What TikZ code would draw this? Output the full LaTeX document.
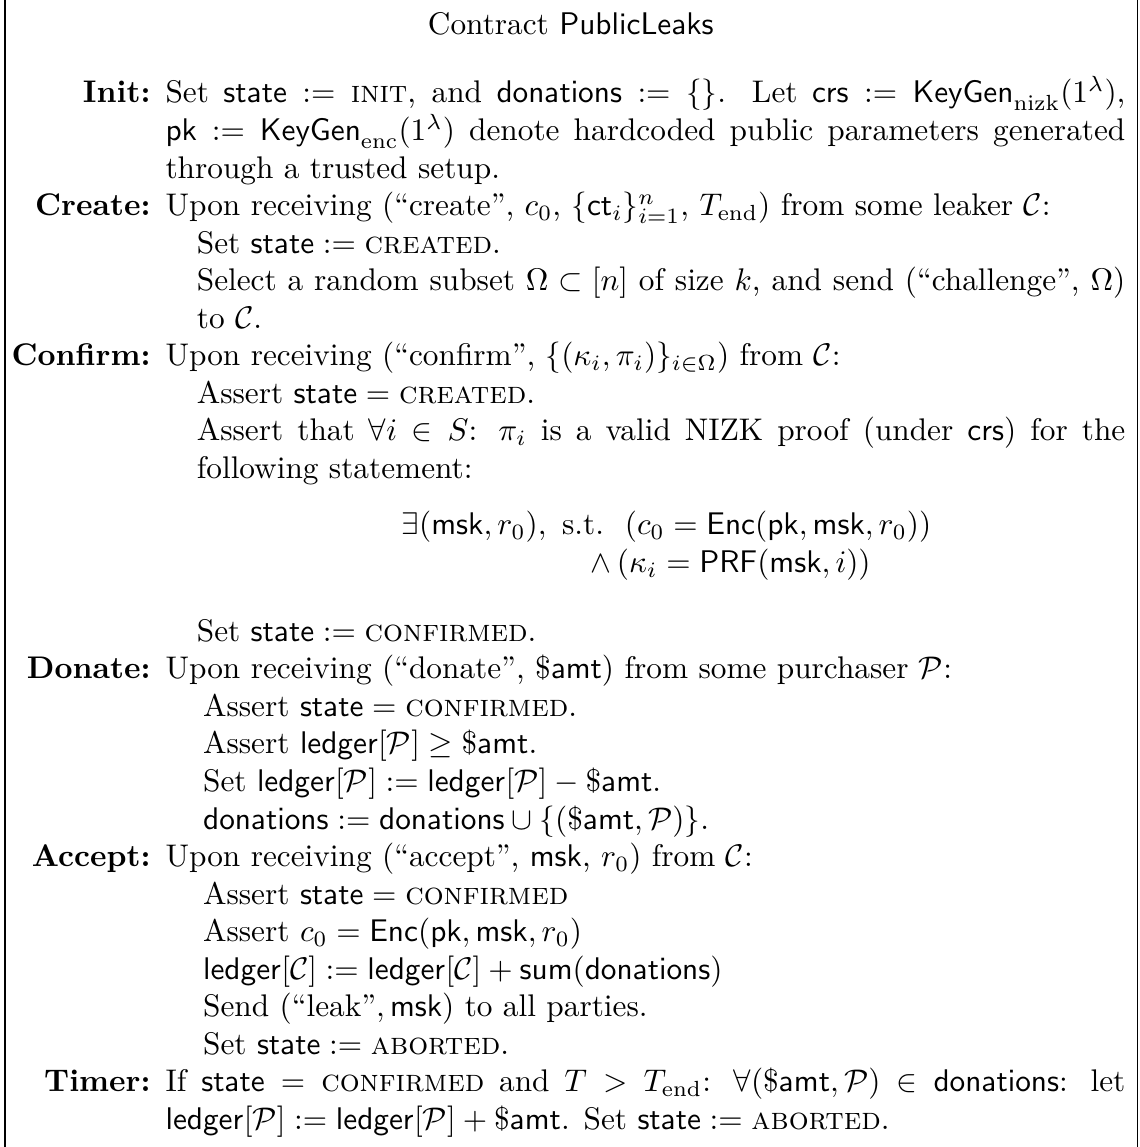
\documentclass[tikz,border=0pt]{standalone}
\usepackage{amsmath,amssymb}
\newenvironment{protolist}{\begin{list}{}{%
  \setlength\leftmargin{52.7pt}\setlength\labelwidth{47.9pt}%
  \setlength\labelsep{4.8pt}\setlength\itemsep{0pt}\setlength\parsep{0pt}%
  \setlength\topsep{0pt}\setlength\partopsep{0pt}\setlength\itemindent{0pt}%
  \setlength\listparindent{0pt}\renewcommand\makelabel[1]{\hfill\textbf{##1}}}}{\end{list}}
\newcommand{\ms}[1]{\mathsf{#1}}
\begin{document}
\begin{tikzpicture}[x=1pt,y=1pt]
\useasboundingbox (0,0) rectangle (364.2,-366.5);
\coordinate (lt) at (1.6,0);
\coordinate (lb) at (1.6,-366.5);
\coordinate (rt) at (363.4,0);
\coordinate (rb) at (363.4,-366.5);
\draw[line width=0.4pt] (lt) -- (lb);
\draw[line width=0.4pt] (rt) -- (rb);
\node[anchor=base, inner sep=0] (title) at (182.4,-11.0) {Contract \textsf{PublicLeaks}};
\node[anchor=base west, inner sep=0] (body) at (0,-32.9) {\begin{minipage}[t]{359.4pt}
\begin{protolist}
\item[Init:] Set $\ms{state} := \textsc{init}$, and $\ms{donations} := \{\}$. Let $\ms{crs} := \ms{KeyGen}_{\mathrm{nizk}}(1^\lambda)$, $\ms{pk} := \ms{KeyGen}_{\mathrm{enc}}(1^\lambda)$ denote hardcoded public parameters generated through a trusted setup.
\item[Create:] Upon receiving (``create'', $c_0$, $\{\ms{ct}_i\}_{i=1}^n$, $T_{\mathrm{end}}$) from some leaker $\mathcal{C}$:\par
{\leftskip=10pt Set $\ms{state} := \textsc{created}$.\par
Select a random subset $\Omega \subset [n]$ of size $k$, and send (``challenge'', $\Omega$) to $\mathcal{C}$.\par}
\item[Confirm:] Upon receiving (``confirm'', $\{(\kappa_i,\pi_i)\}_{i\in\Omega}$) from $\mathcal{C}$:\par
{\leftskip=10pt Assert $\ms{state} = \textsc{created}$.\par
Assert that $\forall i \in S$: $\pi_i$ is a valid NIZK proof (under $\ms{crs}$) for the following statement:\par
\vspace{6pt}\hspace*{65.5pt}$\exists(\ms{msk}, r_0),\ \text{s.t.}\ \ (c_0 = \ms{Enc}(\ms{pk}, \ms{msk}, r_0))$\par
\hspace*{125.9pt}$\wedge\, (\kappa_i = \ms{PRF}(\ms{msk}, i))$\par
\vspace{10pt}Set $\ms{state} := \textsc{confirmed}$.\par}
\item[Donate:] Upon receiving (``donate'', \$\textsf{amt}) from some purchaser $\mathcal{P}$:\par
{\leftskip=12pt Assert $\ms{state} = \textsc{confirmed}$.\par
Assert $\ms{ledger}[\mathcal{P}] \ge \$\ms{amt}$.\par
Set $\ms{ledger}[\mathcal{P}] := \ms{ledger}[\mathcal{P}] - \$\ms{amt}$.\par
$\ms{donations} := \ms{donations} \cup \{(\$\ms{amt}, \mathcal{P})\}$.\par}
\item[Accept:] Upon receiving (``accept'', \textsf{msk}, $r_0$) from $\mathcal{C}$:\par
{\leftskip=12pt Assert $\ms{state} = \textsc{confirmed}$\par
Assert $c_0 = \ms{Enc}(\ms{pk}, \ms{msk}, r_0)$\par
$\ms{ledger}[\mathcal{C}] := \ms{ledger}[\mathcal{C}] + \ms{sum}(\ms{donations})$\par
Send $(\text{``leak''}, \ms{msk})$ to all parties.\par
Set $\ms{state} := \textsc{aborted}$.\par}
\item[Timer:] If $\ms{state} = \textsc{confirmed}$ and $T > T_{\mathrm{end}}$: $\forall(\$\ms{amt},\mathcal{P}) \in \ms{donations}$: let $\ms{ledger}[\mathcal{P}] := \ms{ledger}[\mathcal{P}] + \$\ms{amt}$. Set $\ms{state} := \textsc{aborted}$.
\end{protolist}
\end{minipage}};
\end{tikzpicture}
\end{document}
